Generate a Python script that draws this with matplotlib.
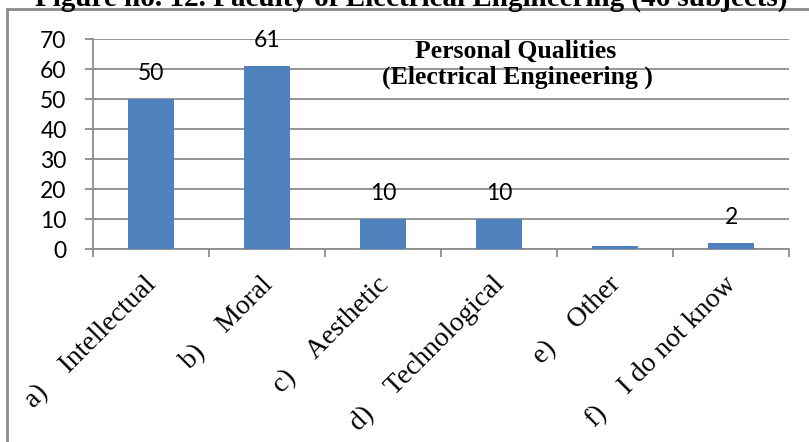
import matplotlib
matplotlib.use("Agg")
import matplotlib.pyplot as plt
from matplotlib.patches import Rectangle
from matplotlib.transforms import ScaledTranslation, blended_transform_factory

# Data
prefixes = ["a)", "b)", "c)", "d)", "e)", "f)"]
categories = ["Intellectual", "Moral", "Aesthetic", "Technological", "Other", "I do not know"]
values = [50, 61, 10, 10, 1, 2]
shown_labels = ["50", "61", "10", "10", "", "2"]
yticks = [0, 10, 20, 30, 40, 50, 60, 70]

W, H, DPI = 809, 442, 100
fig = plt.figure(figsize=(W / DPI, H / DPI), dpi=DPI)
fig.patch.set_facecolor("white")

ax = fig.add_axes([93 / W, 1 - 249 / H, (789 - 93) / W, (249 - 39) / H])

bar_color = "#4F81BD"
grid_color = "#8C8C8C"
num_font = "Lato"
serif = "Liberation Serif"

x = list(range(len(categories)))
ax.bar(x, values, width=0.4, color=bar_color, zorder=3)

ax.set_xlim(-0.5, len(categories) - 0.5)
ax.set_ylim(0, 70)
ax.set_yticks(yticks)
ax.set_yticklabels([str(v) for v in yticks], fontfamily=num_font, fontsize=16.5)
ax.yaxis.grid(True, color=grid_color, linewidth=1.3, zorder=0)
ax.set_axisbelow(True)

# category boundary ticks on the x axis
ax.set_xticks([i - 0.5 for i in range(len(categories) + 1)])
ax.set_xticklabels([])
ax.tick_params(axis="x", length=6, width=1.3, color=grid_color, direction="out")
ax.tick_params(axis="y", length=6, width=1.3, color=grid_color, direction="out", pad=13)

for side in ["top", "right"]:
    ax.spines[side].set_visible(False)
for side in ["left", "bottom"]:
    ax.spines[side].set_color(grid_color)
    ax.spines[side].set_linewidth(1.3)

# value labels above bars
for xi, v, lab in zip(x, values, shown_labels):
    if lab:
        ax.annotate(lab, (xi, v), xytext=(0, 13.5), textcoords="offset points",
                    ha="center", va="baseline", fontfamily=num_font, fontsize=16.5)

# rotated category labels
trans = blended_transform_factory(ax.transData, ax.transAxes)
for xi, pre, cat in zip(x, prefixes, categories):
    off = ScaledTranslation(-7 / DPI, -23 / DPI, fig.dpi_scale_trans)
    ax.text(xi, 0, f"{pre}    {cat}", transform=trans + off, rotation=45,
            rotation_mode="anchor", ha="right", va="top",
            fontfamily=serif, fontsize=20)

# in-chart title
fig.text(516 / W, 1 - 58 / H, "Personal Qualities", ha="center", va="baseline",
         fontfamily=serif, fontweight="bold", fontsize=18.5)
fig.text(517 / W, 1 - 84 / H, "(Electrical Engineering )", ha="center", va="baseline",
         fontfamily=serif, fontweight="bold", fontsize=18.5)

# figure caption, running off the top edge
fig.text(411 / W, 1 - 6 / H, "Figure no. 12. Faculty of Electrical Engineering (46 subjects)",
         ha="center", va="baseline", fontfamily=serif, fontweight="bold", fontsize=21)

# chart frame
frame = Rectangle((7 / W, -0.2), 1.0, 1.2 - 9 / H, transform=fig.transFigure,
                  fill=False, edgecolor="#8A8A8A", linewidth=2, clip_on=False)
fig.patches.append(frame)

fig.savefig("out.png", dpi=DPI)
